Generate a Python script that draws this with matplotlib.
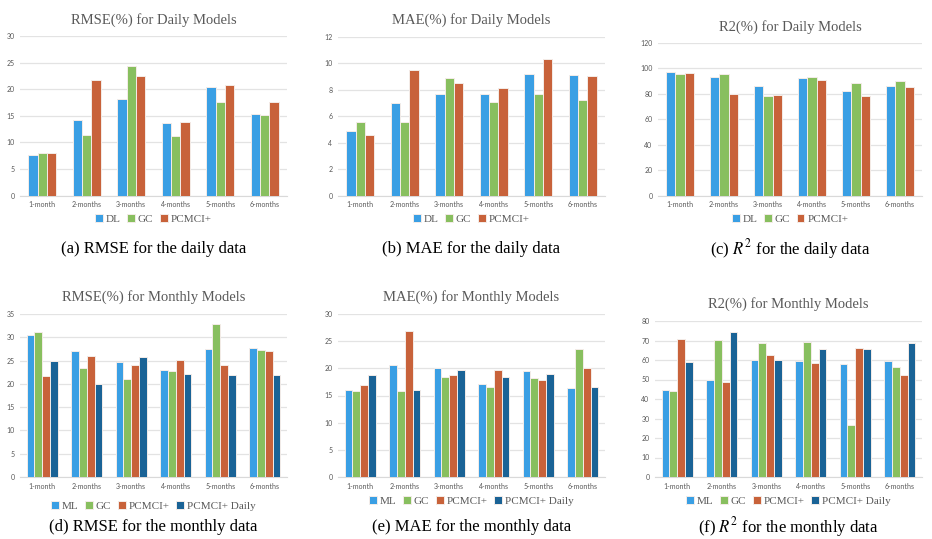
import numpy as np
import matplotlib
matplotlib.use('Agg')
import matplotlib.pyplot as plt

plt.rcParams['mathtext.fontset'] = 'stix'

W, H = 932, 539

categories = ['1-month', '2-months', '3-months', '4-months', '5-months', '6-months']
daily_series = ['DL', 'GC', 'PCMCI+']
monthly_series = ['ML', 'GC', 'PCMCI+', 'PCMCI+ Daily']

# daily models
rmse_daily_dl = [7.7, 14.3, 18.2, 13.7, 20.4, 15.4]
rmse_daily_gc = [8.0, 11.4, 24.4, 11.3, 17.6, 15.1]
rmse_daily_pc = [8.1, 21.7, 22.5, 13.8, 20.8, 17.6]

mae_daily_dl = [4.85, 7.0, 7.7, 7.65, 9.2, 9.1]
mae_daily_gc = [5.55, 5.6, 8.85, 7.1, 7.7, 7.2]
mae_daily_pc = [4.6, 9.45, 8.5, 8.15, 10.3, 9.0]

r2_daily_dl = [97.5, 93.2, 86.2, 92.8, 82.4, 86.4]
r2_daily_gc = [95.5, 95.5, 78.5, 93.3, 88.5, 90.2]
r2_daily_pc = [96.8, 80.0, 79.2, 90.8, 78.3, 85.4]

# monthly models
rmse_monthly_ml = [30.5, 27.1, 24.8, 23.0, 27.4, 27.8]
rmse_monthly_gc = [31.1, 23.5, 21.0, 22.7, 32.8, 27.2]
rmse_monthly_pc = [21.6, 26.0, 24.1, 25.1, 24.0, 27.0]
rmse_monthly_pcd = [24.9, 19.9, 25.7, 22.1, 21.8, 21.9]

mae_monthly_ml = [16.1, 20.7, 20.1, 17.1, 19.5, 16.3]
mae_monthly_gc = [15.8, 15.8, 18.4, 16.5, 18.3, 23.5]
mae_monthly_pc = [16.9, 26.9, 18.8, 19.7, 17.8, 20.0]
mae_monthly_pcd = [18.8, 16.0, 19.7, 18.4, 19.0, 16.6]

r2_monthly_ml = [44.5, 50.0, 60.2, 59.3, 58.1, 59.3]
r2_monthly_gc = [44.3, 70.5, 68.9, 69.3, 26.7, 56.5]
r2_monthly_pc = [70.8, 48.8, 62.6, 58.5, 66.3, 52.3]
r2_monthly_pcd = [59.0, 74.4, 60.0, 65.7, 65.6, 68.6]

colors = ['#3A9FE4', '#88BF5F', '#C8623A', '#1A6396']
grey = '#595959'

fig = plt.figure(figsize=(W / 100, H / 100), dpi=100)


def fx(x):
    return x / W


def fy(y):
    return 1 - y / H


def panel(box, title, title_y, data, labels, ymax, step, width,
          legend_y, caption, caption_y):
    left, top, right, bottom = box
    ax = fig.add_axes([fx(left), fy(bottom), fx(right - left), (bottom - top) / H])
    x = np.arange(len(categories))
    n = len(data)
    for i, vals in enumerate(data):
        off = (i - (n - 1) / 2) * width
        ax.bar(x + off, vals, width, color=colors[i], edgecolor='#F4ECE8',
               linewidth=0.7, label=labels[i], zorder=3)
    ax.set_xlim(-0.5, len(categories) - 0.5)
    ax.set_ylim(0, ymax)
    ax.set_yticks(np.arange(0, ymax + step / 2, step))
    ax.set_xticks(x)
    ax.set_xticklabels(categories)
    ax.yaxis.grid(True, color='#E3E3E3', linewidth=0.9, zorder=0)
    for s in ['top', 'right', 'left']:
        ax.spines[s].set_visible(False)
    ax.spines['bottom'].set_color('#D9D9D9')
    ax.tick_params(length=0, labelsize=5, labelcolor=grey, pad=4)
    for lab in ax.get_xticklabels() + ax.get_yticklabels():
        lab.set_family('Lato')
    cx = (left + right) / 2
    fig.text(fx(cx), fy(title_y), title, ha='center', va='center',
             family='Liberation Serif', fontsize=10.5, color=grey)
    fig.legend(handles=ax.containers, labels=labels, loc='center',
               bbox_to_anchor=(fx(cx), fy(legend_y)), ncol=n, frameon=False,
               prop={'family': 'Liberation Serif', 'size': 8}, labelcolor=grey,
               handlelength=0.7, handleheight=0.7, handletextpad=0.25,
               columnspacing=0.6)
    fig.text(fx(cx), fy(caption_y), caption, ha='center', va='center',
             family='Liberation Serif', fontsize=12, color='black')
    return ax


panel((20, 36, 287, 195.7), 'RMSE(%) for Daily Models', 20,
      [rmse_daily_dl, rmse_daily_gc, rmse_daily_pc], daily_series, 30, 5, 0.21,
      219, '(a) RMSE for the daily data', 249)
panel((338, 36.7, 605, 195.7), 'MAE(%) for Daily Models', 20,
      [mae_daily_dl, mae_daily_gc, mae_daily_pc], daily_series, 12, 2, 0.21,
      219, '(b) MAE for the daily data', 249)
panel((658, 43, 922, 195.7), 'R2(%) for Daily Models', 27,
      [r2_daily_dl, r2_daily_gc, r2_daily_pc], daily_series, 120, 20, 0.21,
      219, '(c) $R^2$ for the daily data', 249)

panel((20, 314, 287, 477), 'RMSE(%) for Monthly Models', 297,
      [rmse_monthly_ml, rmse_monthly_gc, rmse_monthly_pc, rmse_monthly_pcd],
      monthly_series, 35, 5, 0.175, 506, '(d) RMSE for the monthly data', 527)
panel((338, 314, 605, 477), 'MAE(%) for Monthly Models', 297,
      [mae_monthly_ml, mae_monthly_gc, mae_monthly_pc, mae_monthly_pcd],
      monthly_series, 30, 5, 0.175, 501, '(e) MAE for the monthly data', 527)
panel((655, 321, 922, 477), 'R2(%) for Monthly Models', 304,
      [r2_monthly_ml, r2_monthly_gc, r2_monthly_pc, r2_monthly_pcd],
      monthly_series, 80, 10, 0.175, 501, '(f) $R^2$ for the monthly data', 527)

fig.savefig('out.png', dpi=100)
